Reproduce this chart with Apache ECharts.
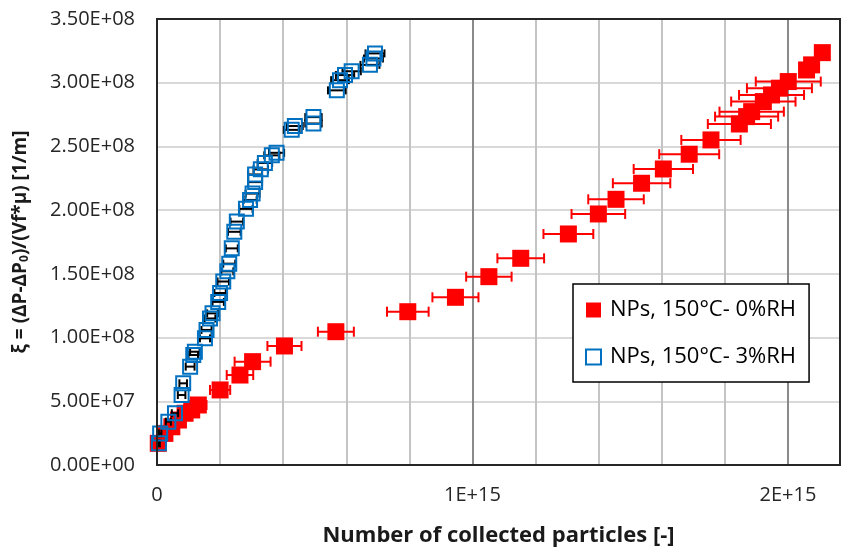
<!DOCTYPE html>
<html>
<head>
<meta charset="utf-8">
<script src="https://cdn.jsdelivr.net/npm/echarts@6/dist/echarts.min.js"></script>
<style>
  html, body { margin: 0; padding: 0; background: #fff; }
  #chart { width: 841px; height: 555px; }
</style>
</head>
<body>
<div id="chart"></div>
<script>
// NPs, 150°C - 0%RH  (x in 1E+15 particles, y in 1E+07 1/m, x error in 1E+13)
var redX = [0.004, 0.025, 0.047, 0.068, 0.089, 0.110, 0.131, 0.200, 0.263, 0.303, 0.404, 0.567,
            0.795, 0.946, 1.052, 1.153, 1.304, 1.399, 1.455, 1.536, 1.605, 1.687, 1.756,
            1.846, 1.869, 1.885, 1.922, 1.948, 1.973, 2.001, 2.059, 2.075, 2.109];
var redY = [1.70, 2.48, 3.00, 3.53, 4.06, 4.32, 4.71, 5.89, 7.06, 8.11, 9.34, 10.46,
            12.03, 13.16, 14.78, 16.22, 18.13, 19.70, 20.85, 22.11, 23.23, 24.39, 25.51,
            26.76, 27.34, 27.73, 28.52, 29.04, 29.57, 30.09, 31.00, 31.40, 32.36];
var redErr = [0.2, 0.6, 1.0, 1.4, 1.8, 2.2, 2.6, 3.2, 4.2, 5.7, 5.4, 5.7,
              6.6, 7.3, 7.2, 7.4, 7.9, 8.5, 8.8, 9.1, 9.4, 9.5, 9.4,
              10.0, 10.0, 10.2, 10.2, 10.3, 10.3, 10.3, 0, 0, 0];

// NPs, 150°C - 3%RH
var blueX = [0.006, 0.010, 0.036, 0.057, 0.078, 0.083, 0.105, 0.115, 0.120, 0.152, 0.157, 0.168,
             0.176, 0.194, 0.200, 0.210, 0.223, 0.229, 0.237, 0.245, 0.253, 0.282, 0.295, 0.303,
             0.311, 0.311, 0.329, 0.342, 0.364, 0.379, 0.427, 0.437, 0.496, 0.496, 0.570, 0.580,
             0.596, 0.617, 0.675, 0.686, 0.691];
var blueY = [1.70, 2.48, 3.40, 4.06, 5.49, 6.41, 7.72, 8.63, 8.89, 9.94, 10.6, 11.5,
             11.9, 12.8, 13.5, 14.4, 15.2, 15.8, 17.0, 18.3, 19.1, 20.1, 20.8, 21.3,
             22.2, 22.8, 23.2, 23.7, 24.3, 24.5, 26.3, 26.6, 26.8, 27.3, 29.4, 30.2,
             30.6, 30.9, 31.4, 31.9, 32.3];
var blueErr = [0.3, 0.4, 0.8, 1.0, 1.2, 1.2, 1.4, 1.5, 1.5, 1.6, 1.6, 1.7,
               1.7, 1.8, 1.8, 1.8, 1.9, 1.9, 1.9, 2.0, 2.0, 2.1, 2.1, 2.2,
               2.2, 2.2, 2.3, 2.3, 2.4, 2.4, 2.5, 2.5, 2.6, 2.6, 2.8, 2.8,
               2.9, 2.9, 3.0, 3.0, 3.0];

var seriesNames = ['NPs, 150°C- 0%RH', 'NPs, 150°C- 3%RH'];
var xLabels = { 0: '0', 1: '1E+15', 2: '2E+15' };

var FONT = '"Open Sans", "Noto Sans", sans-serif';

function toPoints(xs, ys) {
  return xs.map(function (x, i) { return [x * 1e15, ys[i] * 1e7]; });
}
function toErr(xs, ys, es) {
  return xs.map(function (x, i) { return [x * 1e15, ys[i] * 1e7, es[i] * 1e13]; });
}

function errorBars(color, cap) {
  return function (params, api) {
    var x = api.value(0), y = api.value(1), e = api.value(2);
    if (!e) return;
    var a = api.coord([x - e, y]), b = api.coord([x + e, y]);
    var h = cap / 2;
    var st = { stroke: color, lineWidth: 2 };
    return {
      type: 'group',
      children: [
        { type: 'line', shape: { x1: a[0], y1: a[1], x2: b[0], y2: b[1] }, style: st },
        { type: 'line', shape: { x1: a[0], y1: a[1] - h, x2: a[0], y2: a[1] + h }, style: st },
        { type: 'line', shape: { x1: b[0], y1: b[1] - h, x2: b[0], y2: b[1] + h }, style: st }
      ]
    };
  };
}

// dark frame around the plot area, drawn on top of the grid lines
function plotFrame(params) {
  var r = params.coordSys;
  return {
    type: 'rect',
    shape: { x: r.x, y: r.y, width: r.width, height: r.height },
    style: { fill: 'none', stroke: '#262626', lineWidth: 2 }
  };
}

function sciLabel(v) {
  var s = v.toExponential(2).split('e');
  var exp = parseInt(s[1], 10);
  var sign = exp < 0 ? '-' : '+';
  exp = Math.abs(exp);
  return s[0] + 'E' + sign + (exp < 10 ? '0' + exp : exp);
}

var chart = echarts.init(document.getElementById('chart'));

var option = {
  backgroundColor: '#ffffff',
  animation: false,
  textStyle: { fontFamily: FONT },
  grid: { left: 157, top: 19, right: 1, bottom: 90 },
  legend: {
    data: seriesNames,
    orient: 'vertical',
    left: 573, top: 284,
    padding: [14, 13, 13, 12],
    itemGap: 23,
    itemWidth: 15, itemHeight: 15,
    backgroundColor: '#ffffff',
    borderColor: '#000000', borderWidth: 1.5,
    textStyle: { fontFamily: FONT, fontSize: 22, color: '#000', padding: [0, 0, 0, 4], lineHeight: 24 }
  },
  xAxis: {
    type: 'value',
    min: 0, max: 2.165e15, interval: 2e14,
    name: 'Number of collected particles [-]',
    nameLocation: 'middle', nameGap: 60,
    nameTextStyle: { fontFamily: FONT, fontSize: 22, fontWeight: 'bold', color: '#1a1a1a' },
    axisLine: { show: true, lineStyle: { color: '#262626', width: 2 } },
    axisTick: { show: false },
    axisLabel: {
      fontSize: 20, color: '#262626', margin: 20, showMaxLabel: false,
      formatter: function (v) {
        var k = Math.round(v / 1e15);
        if (Math.abs(v - k * 1e15) < 1e12 && xLabels[k] !== undefined) return xLabels[k];
        return '';
      }
    },
    splitLine: {
      show: true, showMaxLine: false,
      lineStyle: { color: ['#8a8a8a', '#c4c4c4', '#c4c4c4', '#c4c4c4', '#c4c4c4'], width: 2 }
    }
  },
  yAxis: {
    type: 'value',
    min: 0, max: 3.5e8, interval: 5e7,
    name: '{t|ξ = (ΔP-ΔP}{s|0}{t|)/(Vf*μ) [1/m]}',
    nameLocation: 'middle', nameGap: 126, nameRotate: 90,
    nameTextStyle: {
      rich: {
        t: { fontFamily: FONT, fontSize: 19, fontWeight: 'bold', color: '#1a1a1a' },
        s: { fontFamily: FONT, fontSize: 12, fontWeight: 'bold', color: '#1a1a1a', padding: [9, 0, 0, 0] }
      }
    },
    axisLine: { show: true, lineStyle: { color: '#262626', width: 2 } },
    axisTick: { show: false },
    axisLabel: {
      fontSize: 20, color: '#262626', margin: 22,
      formatter: function (v) { return sciLabel(v); }
    },
    splitLine: { show: true, showMaxLine: false, lineStyle: { color: '#d9d9d9', width: 2 } }
  },
  series: [
    {
      name: 'redErr', type: 'custom',
      renderItem: errorBars('#ff0000', 10),
      encode: { x: 0, y: 1 },
      data: toErr(redX, redY, redErr),
      z: 2, silent: true
    },
    {
      name: seriesNames[0], type: 'scatter',
      symbol: 'rect', symbolSize: 17,
      itemStyle: { color: '#ff0000', opacity: 1 },
      data: toPoints(redX, redY),
      z: 3
    },
    {
      name: 'blueErr', type: 'custom',
      renderItem: errorBars('#000000', 8),
      encode: { x: 0, y: 1 },
      data: toErr(blueX, blueY, blueErr),
      z: 4, silent: true
    },
    {
      name: seriesNames[1], type: 'scatter',
      symbol: 'rect', symbolSize: 14,
      itemStyle: { color: 'rgba(255,255,255,0)', borderColor: '#0070c0', borderWidth: 2, opacity: 1 },
      data: toPoints(blueX, blueY),
      z: 5
    },
    {
      name: 'frame', type: 'custom',
      renderItem: plotFrame,
      data: [[0, 0]],
      z: 6, silent: true
    }
  ]
};

chart.setOption(option);
</script>
</body>
</html>
